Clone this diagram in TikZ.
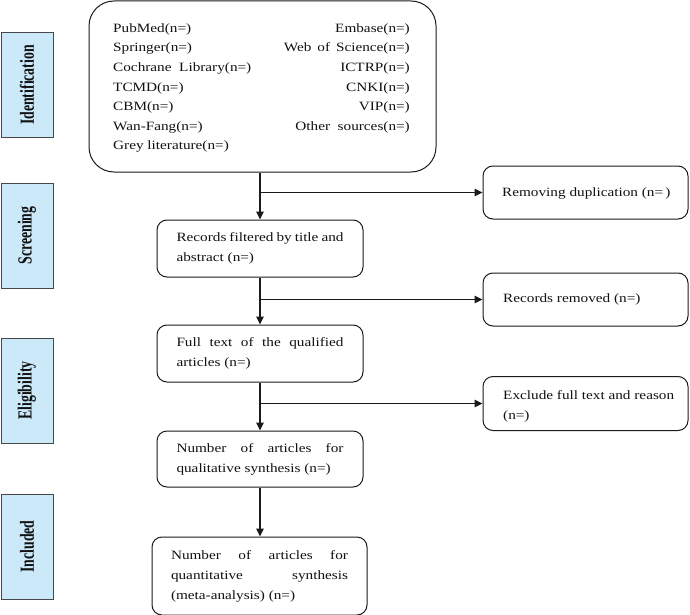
\documentclass[tikz,border=0pt]{standalone}
\usepackage{fontspec}
\usepackage{graphicx}
\setmainfont{Liberation Serif}[FakeStretch=1.2]
\newfontfamily\sidefont{Liberation Serif}
\usetikzlibrary{arrows.meta}
\definecolor{sidefill}{HTML}{CCE9FA}
\definecolor{linecol}{HTML}{1A1A1A}
\definecolor{textcol}{HTML}{111111}
\begin{document}
\begin{tikzpicture}[x=1pt,y=-1pt,
  every node/.style={text=textcol},
  mainfont/.style={font=\fontsize{12.7}{20}\selectfont},
  sidebox/.style={draw=linecol!80, line width=0.9pt, fill=sidefill, rotate=90,
    minimum width=105pt, minimum height=52pt, inner sep=0pt,
    font=\sidefont\fontsize{20}{20}\selectfont\bfseries},
  bigbox/.style={draw=linecol, line width=1pt, rounded corners=25pt,
    minimum width=347pt, minimum height=171pt, inner sep=0pt},
  stepbox/.style={draw=linecol, line width=1pt, rounded corners=10pt, mainfont,
    inner ysep=0pt, align=justify},
  sidebox2/.style={draw=linecol, line width=1pt, rounded corners=10pt,
    minimum width=205pt, minimum height=53pt, inner sep=0pt},
  src/.style={mainfont, inner sep=0pt},
  flow/.style={draw=linecol, line width=1.3pt},
  arr/.style={flow, -{Triangle[width=7.5pt,length=8pt]}}
]
\useasboundingbox (0,0) rectangle (690,615);
\tolerance=10000

% phase labels
\node[sidebox] (lid) at (27,85) {\scalebox{0.69}[1]{Identification}};
\node[sidebox] (lsc) at (27,235.5) {\scalebox{0.69}[1]{Screening}};
\node[sidebox] (lel) at (27,390.5) {\scalebox{0.69}[1]{Eligibility}};
\node[sidebox] (lin) at (27,546.5) {\scalebox{0.69}[1]{Included}};

% sources box
\node[bigbox] (top) at (262.5,86.5) {};
\node[src, anchor=west] (s1) at (113,29) {PubMed(n=)};
\node[src, anchor=west] (s2) at (113,48.5) {Springer(n=)};
\node[src, anchor=west] (s3) at (113,68) {Cochrane\ \ Library(n=)};
\node[src, anchor=west] (s4) at (113,88) {TCMD(n=)};
\node[src, anchor=west] (s5) at (113,107) {CBM(n=)};
\node[src, anchor=west] (s6) at (113,127) {Wan-Fang(n=)};
\node[src, anchor=west] (s7) at (113,146) {Grey literature(n=)};
\node[src, anchor=east] (r1) at (410,29) {Embase(n=)};
\node[src, anchor=east] (r2) at (410,48.5) {Web\ \,of\ \,Science(n=)};
\node[src, anchor=east] (r3) at (410,68) {ICTRP(n=)};
\node[src, anchor=east] (r4) at (410,88) {CNKI(n=)};
\node[src, anchor=east] (r5) at (410,107) {VIP(n=)};
\node[src, anchor=east] (r6) at (410,127) {Other\ \ sources(n=)};

% main flow boxes
\node[stepbox, text width=167pt, inner xsep=19.5pt, minimum height=57pt] (rec) at (260,248.5)
  {Records filtered by title and\linebreak abstract (n=)};
\node[stepbox, text width=167pt, inner xsep=19.5pt, minimum height=57pt] (full) at (260,353.5)
  {Full text of the qualified\linebreak articles (n=)};
\node[stepbox, text width=167pt, inner xsep=19.5pt, minimum height=56pt] (qual) at (260,459)
  {Number of articles for\linebreak qualitative synthesis (n=)};
\node[stepbox, text width=177pt, inner xsep=19pt, minimum height=78pt] (quan) at (259.5,576)
  {Number of articles for\linebreak quantitative synthesis\linebreak \mbox{(meta-analysis)} (n=)};

% exclusion boxes
\node[sidebox2] (dup) at (585.5,192.5) {};
\node[src, anchor=west] (dupt) at (502,193) {Removing duplication (n=\,)};
\node[sidebox2] (rem) at (585.5,299.5) {};
\node[src, anchor=west] (remt) at (503,299.5) {Records removed (n=)};
\node[sidebox2, minimum height=54pt] (exc) at (585.5,403.5) {};
\node[src, anchor=west, align=left] (exct) at (503,406)
  {Exclude full text and reason\\(n=)};

% connectors
\draw[arr] (rec.north |- top.south) -- (rec.north);
\draw[arr] (rec.north |- dup.west) -- (dup.west);
\draw[arr] (rec.south) -- (full.north);
\draw[arr] (full.north |- rem.west) -- (rem.west);
\draw[arr] (full.south) -- (qual.north);
\draw[arr] (qual.north |- exc.west) -- (exc.west);
\draw[arr] (qual.south) -- (qual.south |- quan.north);
\end{tikzpicture}
\end{document}
